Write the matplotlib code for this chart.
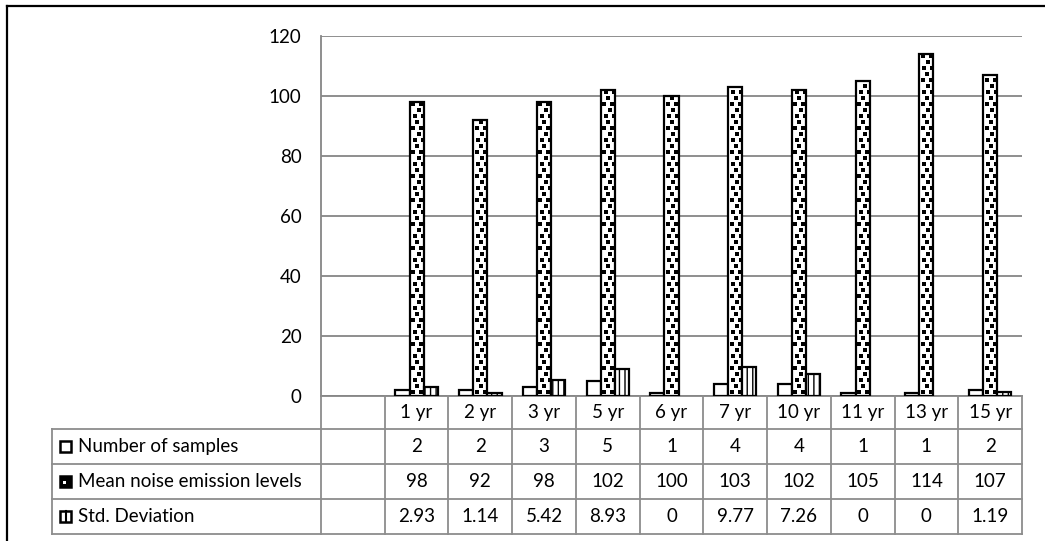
import numpy as np
import matplotlib.pyplot as plt
import matplotlib.transforms as mtransforms
from matplotlib.patches import Rectangle
from matplotlib.lines import Line2D

plt.rcParams['font.family'] = ['Lato', 'DejaVu Sans']

# data
categories = ['1 yr', '2 yr', '3 yr', '5 yr', '6 yr', '7 yr', '10 yr', '11 yr', '13 yr', '15 yr']
series_names = ['Number of samples', 'Mean noise emission levels', 'Std. Deviation']
samples = [2, 2, 3, 5, 1, 4, 4, 1, 1, 2]
mean_levels = [98, 92, 98, 102, 100, 103, 102, 105, 114, 107]
std_dev = [2.93, 1.14, 5.42, 8.93, 0, 9.77, 7.26, 0, 0, 1.19]

series = [samples, mean_levels, std_dev]
hatches = [None, None, '|||']

W, H = 1045, 541
fig = plt.figure(figsize=(W / 100, H / 100), dpi=100)
ax = fig.add_axes([321 / W, 1 - 396 / H, 701 / W, 360 / H])

grid_col = '#868686'
line_col = '#8c8c8c'
fs = 13.5

# first slot of the category axis stays empty
x = np.arange(1, len(categories) + 1)
bw = 1 / 4.5
containers = []
for k, (vals, hatch) in enumerate(zip(series, hatches)):
    lws = [1.6 if v > 0 else 0 for v in vals]
    bars = ax.bar(x + (k - 1) * bw, vals, bw, facecolor='white', edgecolor='black',
                  linewidth=lws, hatch=hatch, zorder=3)
    containers.append(bars)

ax.set_xlim(-0.5, len(categories) + 0.5)
ax.set_ylim(0, 120)

# dotted fill for the mean bars: staggered squares clipped to each bar
px_x = 701 / (len(categories) + 1)   # pixels per category
px_y = 360 / 120                     # pixels per y unit
for rect in containers[1]:
    x0, w, h = rect.get_x(), rect.get_width(), rect.get_height()
    pts_x, pts_y = [], []
    for j, yy in enumerate(np.arange(1.5, h + 2, 6 / px_y)):
        shift = 4 if j % 2 else 0
        start = 3.5 + shift if j % 4 < 2 else 5.0 + shift
        for xx in np.arange(start, w * px_x + 3, 8):
            pts_x.append(x0 + xx / px_x)
            pts_y.append(yy)
    sc = ax.scatter(pts_x, pts_y, marker='s', s=7, color='black', linewidths=0, zorder=4)
    sc.set_clip_path(rect)

ax.set_yticks(range(0, 121, 20))
ax.tick_params(axis='y', length=0, pad=14, labelsize=fs)
ax.set_xticks([])
ax.grid(axis='y', color=grid_col, linewidth=1.3, zorder=0)
for s in ['top', 'right']:
    ax.spines[s].set_visible(False)
for s in ['left', 'bottom']:
    ax.spines[s].set_color(grid_col)
    ax.spines[s].set_linewidth(1.3)

# data table under the plot
bt = mtransforms.blended_transform_factory(ax.transData, fig.transFigure)
ft = fig.transFigure

def fy(py):
    return 1 - py / H

rows_y = [396, 429, 464, 499, 534]
x_left = -0.5
x_right = len(categories) + 0.5
tab_left = 52 / W

for py in rows_y[1:]:
    fig.add_artist(Line2D([tab_left, 1022 / W], [fy(py), fy(py)], color=line_col, lw=1.3))
fig.add_artist(Line2D([tab_left, tab_left], [fy(rows_y[1]), fy(rows_y[-1])], color=line_col, lw=1.3))
for b in np.arange(x_left, x_right + 0.01, 1.0):
    fig.add_artist(Line2D([b, b], [fy(rows_y[0]), fy(rows_y[-1])], color=line_col, lw=1.3,
                          transform=bt))

# category labels
hy = fy((rows_y[0] + rows_y[1]) / 2)
for xi, c in zip(x, categories):
    fig.text(xi, hy, c, transform=bt, ha='center', va='center', fontsize=fs)

# series rows with their keys
for r, (name, vals) in enumerate(zip(series_names, series)):
    cy = (rows_y[r + 1] + rows_y[r + 2]) / 2
    for xi, v in zip(x, vals):
        fig.text(xi, fy(cy), f'{v:g}', transform=bt, ha='center', va='center', fontsize=fs)
    fig.add_artist(Rectangle((60 / W, fy(cy + 5.5)), 11 / W, 11 / H, transform=ft,
                             facecolor='black' if r == 1 else 'white', edgecolor='black',
                             lw=1.8))
    if r == 1:
        fig.add_artist(Rectangle((63 / W, fy(cy + 2.5)), 3 / W, 3 / H, transform=ft,
                                 facecolor='white', edgecolor='none'))
    if r == 2:
        fig.add_artist(Line2D([65.5 / W, 65.5 / W], [fy(cy + 5.5), fy(cy - 5.5)],
                              transform=ft, color='black', lw=1.5))
    fig.text(78 / W, fy(cy), name, transform=ft, ha='left', va='center', fontsize=fs)

# chart frame
fig.add_artist(Line2D([6.5 / W, 6.5 / W], [0, fy(6)], color='black', lw=1.6))
fig.add_artist(Line2D([6.5 / W, 1], [fy(6), fy(6)], color='black', lw=1.6))

fig.savefig('out.png', dpi=100)
